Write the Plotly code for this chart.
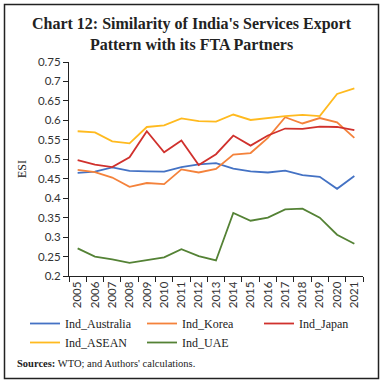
import plotly.graph_objects as go

years = [str(y) for y in range(2005, 2022)]
ind_australia = [0.465, 0.468, 0.479, 0.470, 0.469, 0.468, 0.480, 0.487, 0.490, 0.476, 0.469, 0.466, 0.471, 0.459, 0.455, 0.424, 0.457]
ind_korea = [0.473, 0.467, 0.453, 0.429, 0.439, 0.436, 0.474, 0.466, 0.475, 0.512, 0.516, 0.555, 0.608, 0.592, 0.606, 0.595, 0.555]
ind_japan = [0.498, 0.486, 0.480, 0.505, 0.572, 0.518, 0.548, 0.485, 0.513, 0.561, 0.535, 0.561, 0.579, 0.578, 0.584, 0.583, 0.575]
ind_asean = [0.572, 0.569, 0.546, 0.541, 0.583, 0.587, 0.605, 0.598, 0.597, 0.615, 0.601, 0.606, 0.611, 0.614, 0.611, 0.668, 0.682]
ind_uae = [0.271, 0.250, 0.243, 0.234, 0.241, 0.248, 0.269, 0.251, 0.240, 0.362, 0.342, 0.350, 0.371, 0.373, 0.350, 0.306, 0.283]

series = [
    ("Ind_Australia", ind_australia, "#4472C4"),
    ("Ind_Korea", ind_korea, "#F4823B"),
    ("Ind_Japan", ind_japan, "#D0312D"),
    ("Ind_ASEAN", ind_asean, "#FFBA1F"),
    ("Ind_UAE", ind_uae, "#548235"),
]

fig = go.Figure()
for name, vals, col in series:
    fig.add_trace(go.Scatter(x=years, y=vals, mode="lines", name=name,
                             line=dict(color=col, width=1.8)))

W, H = 383, 383
ml, mr, mt, mb = 69, 20, 62, 107
pw = W - ml - mr
ph = H - mt - mb

def px(x):
    return (x - ml) / pw

def py(y):
    return (H - mb - y) / ph

tickfont = dict(family="Lato, Open Sans, sans-serif", size=11.5, color="#333")
serif = "Liberation Serif, DejaVu Serif, serif"

fig.update_layout(
    width=W, height=H,
    margin=dict(l=ml, r=mr, t=mt, b=mb, autoexpand=False),
    paper_bgcolor="white", plot_bgcolor="white",
    showlegend=True,
    title=dict(text="<b>Chart 12: Similarity of India's Services Export<br>Pattern with its FTA Partners</b>",
               x=0.5, xanchor="center", y=1 - 29 / H, yanchor="middle",
               font=dict(family=serif, size=16, color="#222")),
    xaxis=dict(type="category", showline=True, linecolor="#222", linewidth=1,
               ticks="outside", tickson="boundaries", ticklen=5, tickcolor="#222",
               tickangle=-90, tickfont=tickfont, showgrid=False, zeroline=False,
               range=[-0.5, 16.5], automargin=False),
    yaxis=dict(range=[0.2, 0.75], showline=True, automargin=False,
               linecolor="#222", linewidth=1, ticks="outside", ticklen=5,
               tickcolor="#222", tickfont=tickfont, showgrid=False, zeroline=False,
               tickvals=[0.2, 0.25, 0.3, 0.35, 0.4, 0.45, 0.5, 0.55, 0.6, 0.65, 0.7, 0.75],
               ticktext=["0.2", "0.25", "0.3", "0.35", "0.4", "0.45", "0.5", "0.55", "0.6", "0.65", "0.7", "0.75"],
               title=dict(text="ESI", font=dict(family=serif, size=12, color="#222"), standoff=8)),
    legend=dict(orientation="h", x=px(25), y=py(309), xanchor="left", yanchor="top",
                entrywidth=72, entrywidthmode="pixels",
                font=dict(family=serif, size=12, color="#222"),
                tracegroupgap=0, itemwidth=30, bgcolor="rgba(0,0,0,0)"),
    shapes=[dict(type="rect", xref="paper", yref="paper",
                 x0=px(4.5), x1=px(378.5), y0=py(378.5), y1=py(4.5),
                 line=dict(color="#222", width=1.5), fillcolor="rgba(0,0,0,0)")],
    annotations=[dict(text="<b>Sources:</b> WTO; and Authors' calculations.",
                      xref="paper", yref="paper", x=px(15), y=py(363),
                      xanchor="left", yanchor="middle", showarrow=False,
                      font=dict(family=serif, size=10.5, color="#222"))],
)

fig.write_html("out.html", config={"displayModeBar": False},
               post_script="document.body.style.margin='0';document.body.style.overflow='hidden';")
